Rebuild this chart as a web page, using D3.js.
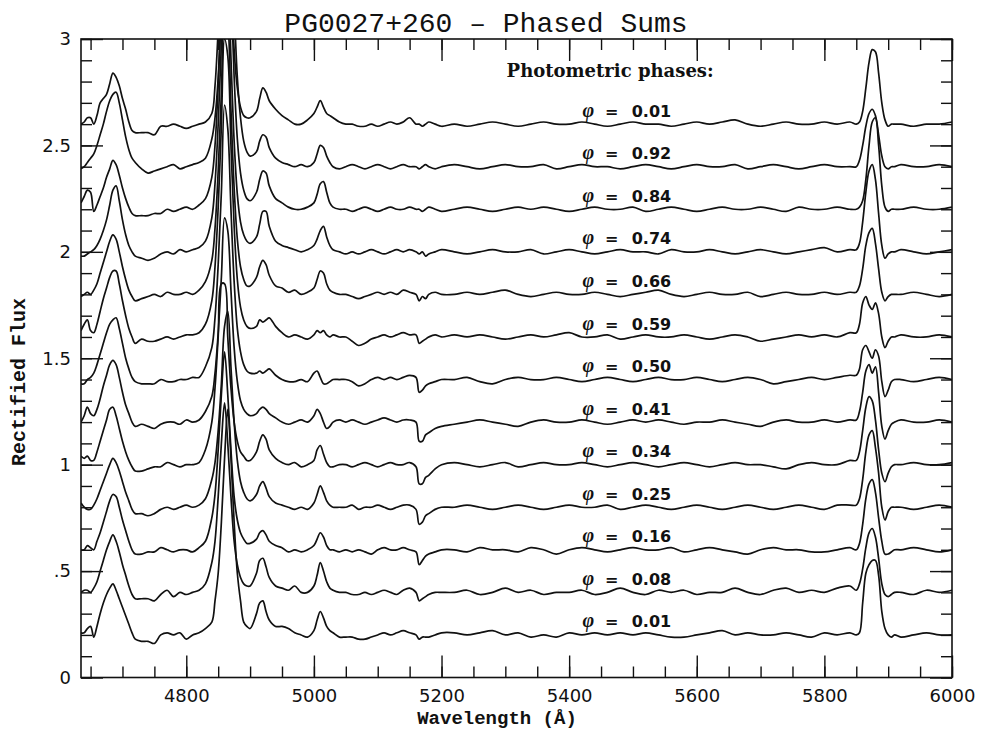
<!DOCTYPE html>
<html>
<head>
<meta charset="utf-8">
<script src="https://cdn.jsdelivr.net/npm/d3@7/dist/d3.min.js"></script>
<style>
  body { margin: 0; background: #fff; }
</style>
</head>
<body>
<div id="chart"></div>
<script>
// wavelength grid (Angstrom), shared by all spectra
const wavelengths = [
  4635,4640,4645,4650,4655,4660,4665,4670,4675,4680,4685,4690,4695,4700,4705,4710,4715,4720,
  4730,4740,4750,4760,4770,4780,4790,4800,4810,4820,4830,
  4840,4845,4850,4855,4860,4865,4870,4875,4880,4885,4890,4895,4900,
  4910,4915,4920,4925,4930,4940,4950,4960,4970,4980,4990,5000,5005,5010,5015,5020,5025,5030,5040,
  5050,5060,5070,5080,5090,5100,5110,5120,5130,5140,5150,5160,5165,5170,5175,5180,5190,5200,
  5220,5240,5260,5280,5300,5320,5340,5360,5380,5400,5420,5440,5460,5480,5500,5520,5540,5560,5580,5600,5620,5640,5660,5680,5700,5720,5740,5760,5780,5800,5820,5840,
  5850,5855,5860,5865,5870,5875,5880,5885,5890,5895,5900,5905,5910,
  5920,5940,5960,5980,6000
];

// phases, bottom to top, and the vertical shift of each spectrum
const phases = ["0.01","0.08","0.16","0.25","0.34","0.41","0.50","0.59","0.66","0.74","0.84","0.92","0.01"];
const offsets = [-0.8,-0.6,-0.4,-0.2,0,0.2,0.4,0.6,0.8,1.0,1.2,1.4,1.6];

// rectified flux, percent of continuum
const flux01a = [
  101,101,103,104,99,104,110,115,119,122,124,121,117,113,109,105,101,98,
  97,97,96,100,101,100,101,98,100,101,103,
  106,116,129,153,183,206,183,153,129,116,106,104,103,
  110,115,116,111,107,104,104,103,101,100,99,102,107,111,108,104,102,101,99,
  99,99,98,98,99,100,101,100,101,102,101,100,98,99,99,99,100,101,
  101,100,101,102,100,101,99,100,99,101,100,101,100,101,100,101,100,99,99,100,101,102,100,101,100,100,101,100,99,101,100,101,
  100,101,115,129,133,135,135,128,111,103,100,99,100,
  99,100,101,100,100
];
const flux08 = [
  100,101,101,100,102,105,110,115,120,124,127,124,119,113,108,103,99,97,
  97,97,96,99,101,98,100,99,100,101,104,
  114,124,145,170,189,170,145,124,113,107,104,103,103,
  109,115,116,112,107,103,102,101,103,100,100,103,108,114,110,105,102,101,100,
  100,99,99,100,99,100,101,100,99,101,102,100,96,97,98,99,100,100,
  100,101,99,100,102,100,101,99,100,100,101,99,100,102,100,99,101,100,101,99,100,100,102,100,99,101,102,100,101,100,102,103,
  101,104,111,121,128,130,126,116,104,99,98,99,100,
  100,99,101,100,101
];
const flux16 = [
  100,100,102,101,100,104,108,113,118,123,126,125,120,114,109,104,100,98,
  98,99,99,101,100,99,100,100,99,101,104,
  115,126,147,173,193,173,147,125,114,108,105,103,103,
  105,108,109,107,104,102,101,99,100,99,100,102,105,108,106,102,100,100,99,
  100,99,100,99,98,100,101,100,100,101,100,99,93,95,97,98,99,100,
  100,99,101,100,100,99,101,100,98,100,101,100,99,100,101,100,100,101,99,100,101,100,99,98,100,101,100,100,99,99,100,101,
  100,103,112,124,131,133,127,115,104,98,98,99,100,
  100,101,100,99,100
];
const flux25 = [
  102,100,99,99,101,104,108,112,116,120,123,121,117,112,107,103,99,97,
  97,96,97,99,100,99,100,101,100,101,104,
  113,121,136,158,185,192,166,140,122,112,107,104,103,
  106,110,112,109,105,102,101,100,99,100,99,102,106,110,107,103,101,100,100,
  100,101,99,100,100,101,100,99,100,101,101,99,92,93,96,97,99,100,
  100,101,100,99,100,101,100,99,100,101,100,100,101,99,100,101,100,99,100,101,100,99,100,101,100,99,100,101,100,99,101,101,
  101,104,113,126,134,136,128,116,100,94,98,100,100,
  100,99,100,101,100
];
const flux34 = [
  104,103,104,102,102,106,111,116,121,126,127,123,117,111,106,102,99,97,
  97,98,99,99,101,100,99,100,100,101,107,
  120,136,160,185,185,160,136,120,111,106,104,102,102,
  106,111,114,112,107,103,101,100,101,99,100,102,107,109,105,101,99,99,100,
  100,99,100,101,100,99,100,101,100,100,101,99,91,91,94,95,98,100,
  101,100,99,100,101,99,100,101,100,100,101,100,99,100,101,100,99,100,101,100,99,100,101,100,100,99,98,100,101,100,100,102,
  102,106,116,127,132,130,121,107,96,92,96,99,100,
  100,101,100,100,101
];
const flux41 = [
  100,103,107,104,103,106,111,117,122,127,129,127,121,114,108,104,100,98,
  99,98,97,99,100,100,99,101,100,101,105,
  112,123,142,168,196,190,162,135,119,110,106,104,103,
  104,106,107,106,104,102,100,99,100,101,100,103,106,104,100,97,98,100,101,
  100,101,100,99,100,101,102,101,100,101,101,100,91,91,94,95,97,98,
  99,100,101,100,99,98,100,101,100,100,101,100,99,100,101,100,101,100,99,100,100,101,100,99,98,100,101,100,100,101,100,101,
  101,105,114,124,127,123,126,114,98,92,96,99,100,
  101,100,100,101,100
];
const flux50 = [
  98,98,100,101,103,107,112,117,122,126,128,129,124,117,110,105,101,99,
  98,98,98,100,99,99,100,100,101,101,106,
  115,129,154,188,229,218,180,146,124,113,107,104,103,
  103,104,103,104,105,102,100,99,99,100,99,103,104,101,98,98,99,100,100,
  100,99,97,98,100,101,100,101,100,101,102,101,94,95,97,98,99,100,
  100,101,99,98,100,101,100,100,101,100,99,100,101,100,99,100,101,100,100,101,100,99,100,101,100,98,99,100,101,100,101,102,
  102,105,114,116,113,110,114,111,99,92,95,99,100,
  100,99,100,101,100
];
const flux59 = [
  103,106,108,103,102,106,112,118,123,128,131,131,125,117,110,104,100,97,
  99,98,98,99,100,99,100,101,101,102,106,
  117,133,161,199,240,232,190,152,127,114,108,105,104,
  105,108,107,108,109,105,102,100,101,100,99,101,103,102,103,101,100,101,100,
  100,98,96,97,99,100,101,100,101,102,101,101,97,98,99,100,101,100,
  101,100,101,100,99,100,101,100,101,102,100,100,101,99,100,101,100,100,101,100,99,100,101,100,98,99,100,101,100,101,100,102,
  102,106,116,119,115,113,116,111,100,95,98,100,100,
  101,100,100,101,100
];
const flux66 = [
  99,100,101,100,102,105,110,115,120,125,128,126,120,113,107,102,99,97,
  98,99,100,99,101,100,100,101,100,102,106,
  116,131,158,195,235,228,187,150,126,113,107,104,104,
  108,113,116,114,109,104,103,101,102,100,101,103,107,111,110,105,102,101,100,
  100,99,98,99,100,101,100,101,100,102,101,100,97,99,98,100,101,100,
  100,101,100,101,102,100,99,100,101,100,100,101,100,99,100,101,102,100,99,100,101,100,100,101,99,100,101,100,100,101,100,101,
  101,104,112,123,129,131,124,112,101,97,99,100,100,
  100,101,100,99,100
];
const flux74 = [
  98,98,99,100,101,103,106,110,115,122,129,131,124,115,108,103,100,98,
  97,96,97,99,100,99,101,100,101,102,105,
  116,132,160,198,240,233,191,152,127,114,108,105,104,
  107,113,119,119,112,105,103,102,101,100,101,103,106,110,112,107,103,101,100,
  99,100,99,100,101,100,99,100,101,100,101,100,99,100,98,99,100,101,
  100,99,100,101,100,100,101,99,100,101,100,99,100,101,100,100,99,101,100,100,101,100,99,100,101,100,99,100,101,102,100,101,
  101,104,114,128,138,141,134,118,103,97,99,100,100,
  101,100,99,100,101
];
const flux84 = [
  103,106,109,108,99,102,106,110,115,119,123,121,116,110,105,101,98,97,
  97,97,98,98,100,99,100,101,100,102,105,
  115,130,158,196,238,247,205,162,133,117,109,105,104,
  108,114,118,117,111,105,103,101,100,100,101,103,107,112,113,108,103,101,100,
  100,99,100,101,100,99,100,101,100,100,101,100,100,99,100,101,100,99,
  100,101,100,99,100,101,100,101,100,99,100,101,100,100,101,99,100,101,100,99,100,101,100,100,101,100,99,101,100,100,101,100,
  100,101,104,114,130,141,143,130,111,101,99,100,100,
  100,101,100,100,101
];
const flux92 = [
  99,100,102,104,106,110,115,120,126,131,134,135,130,122,114,108,104,102,
  99,97,98,99,100,101,99,100,101,102,104,
  113,123,142,176,218,250,218,176,142,123,112,107,105,
  107,112,115,114,109,104,102,101,100,101,100,102,106,110,109,105,102,100,99,
  100,101,100,99,100,101,100,99,100,101,100,100,99,100,101,100,99,100,
  101,100,99,100,101,100,100,101,99,100,101,100,100,99,100,101,100,99,100,101,100,100,101,99,100,101,100,99,100,101,100,100,
  100,103,110,119,125,127,124,115,105,100,99,100,100,
  101,100,100,101,100
];
const flux01b = [
  100,101,103,103,100,104,110,112,114,119,124,122,118,112,107,101,97,96,
  96,96,95,99,99,100,99,98,99,100,101,
  105,118,145,185,232,228,175,135,117,108,104,103,103,
  106,112,117,115,111,107,104,102,100,100,102,105,108,111,108,105,104,103,101,
  100,100,99,99,100,99,100,101,100,101,103,100,100,99,100,101,100,99,
  100,99,100,101,100,99,100,101,100,100,101,100,99,100,101,100,100,99,100,101,100,101,102,100,99,100,101,100,100,101,100,101,
  100,101,106,117,129,135,134,124,110,102,99,100,100,
  100,99,100,100,101
];

const spectra = [flux01a, flux08, flux16, flux25, flux34, flux41, flux50,
                 flux59, flux66, flux74, flux84, flux92, flux01b];

// axis ticks
const xMajor = [4800, 5000, 5200, 5400, 5600, 5800, 6000];
const yMajor = [0, 0.5, 1, 1.5, 2, 2.5, 3];
const yTickLabels = ["0", ".5", "1", "1.5", "2", "2.5", "3"];

const W = 981, H = 731;
const margin = {top: 39, right: 29, bottom: 53.5, left: 81},
  width = W - margin.left - margin.right,
  height = H - margin.top - margin.bottom;

const svg = d3.select('#chart')
  .append('svg')
  .attr('width', W)
  .attr('height', H);

const g = svg.append('g')
  .attr('transform', `translate(${margin.left}, ${margin.top})`);

const x = d3.scaleLinear().domain([4635, 6000]).range([0, width]);
const y = d3.scaleLinear().domain([0, 3]).range([height, 0]);

svg.append('defs').append('clipPath').attr('id', 'plot-clip')
  .append('rect').attr('width', width).attr('height', height);

// spectra
const line = d3.line()
  .x(d => x(d.w))
  .y(d => y(d.f))
  .curve(d3.curveCatmullRom.alpha(0.5));

g.append('g')
  .attr('clip-path', 'url(#plot-clip)')
  .selectAll('path')
  .data(spectra.map((arr, k) => arr.map((v, i) => ({w: wavelengths[i], f: v / 100 + offsets[k]}))))
  .enter()
  .append('path')
  .attr('d', line)
  .attr('fill', 'none')
  .attr('stroke', '#111')
  .attr('stroke-width', 1.7)
  .attr('stroke-linejoin', 'round');

// ticks on all four sides, pointing inward
const xMinor = d3.range(4650, 6001, 50);
const yMinor = d3.range(0, 3.001, 0.1);

function styleAxis(sel) {
  sel.select('.domain').remove();
  sel.selectAll('line').attr('stroke', '#111').attr('stroke-width', 1.4);
  sel.selectAll('text')
    .attr('fill', '#111')
    .style('font-family', '"DejaVu Sans", sans-serif')
    .style('font-size', '18px');
}

g.append('g').attr('transform', `translate(0,${height})`)
  .call(d3.axisBottom(x).tickValues(xMinor).tickSize(-11).tickFormat(''))
  .call(styleAxis);
g.append('g').attr('transform', `translate(0,${height})`)
  .call(d3.axisBottom(x).tickValues(xMajor).tickSize(-22).tickPadding(12).tickFormat(d3.format('d')))
  .call(styleAxis);
g.append('g')
  .call(d3.axisTop(x).tickValues(xMinor).tickSize(-11).tickFormat(''))
  .call(styleAxis);
g.append('g')
  .call(d3.axisTop(x).tickValues(xMajor).tickSize(-22).tickFormat(''))
  .call(styleAxis);

g.append('g')
  .call(d3.axisLeft(y).tickValues(yMinor).tickSize(-11).tickFormat(''))
  .call(styleAxis);
g.append('g')
  .call(d3.axisLeft(y).tickValues(yMajor).tickSize(-22).tickPadding(10).tickFormat((d, i) => yTickLabels[i]))
  .call(styleAxis);
g.append('g').attr('transform', `translate(${width},0)`)
  .call(d3.axisRight(y).tickValues(yMinor).tickSize(-11).tickFormat(''))
  .call(styleAxis);
g.append('g').attr('transform', `translate(${width},0)`)
  .call(d3.axisRight(y).tickValues(yMajor).tickSize(-22).tickFormat(''))
  .call(styleAxis);

// frame
g.append('rect')
  .attr('width', width)
  .attr('height', height)
  .attr('fill', 'none')
  .attr('stroke', '#111')
  .attr('stroke-width', 1.6);

// title and axis labels
svg.append('text')
  .attr('x', 486)
  .attr('y', 32)
  .attr('text-anchor', 'middle')
  .style('font-family', '"Liberation Mono", monospace')
  .style('font-size', '28px')
  .attr('fill', '#111')
  .text('PG0027+260 \u2013 Phased Sums');

svg.append('text')
  .attr('x', 497)
  .attr('y', 724)
  .attr('text-anchor', 'middle')
  .style('font-family', '"Liberation Mono", monospace')
  .style('font-weight', 'bold')
  .style('font-size', '19px')
  .attr('fill', '#111')
  .text('Wavelength (\u00C5)');

svg.append('text')
  .attr('transform', 'translate(25, 382) rotate(-90)')
  .attr('text-anchor', 'middle')
  .style('font-family', '"Liberation Mono", monospace')
  .style('font-weight', 'bold')
  .style('font-size', '20px')
  .attr('fill', '#111')
  .text('Rectified Flux');

// phase annotations
g.append('text')
  .attr('x', x(5302))
  .attr('y', y(2.822))
  .style('font-family', '"DejaVu Serif", serif')
  .style('font-weight', 'bold')
  .style('font-size', '18px')
  .attr('fill', '#111')
  .text('Photometric phases:');

const labels = g.append('g')
  .selectAll('text')
  .data(phases)
  .enter()
  .append('text')
  .attr('y', (d, k) => y(1 + offsets[k] + 0.035))
  .attr('fill', '#111')
  .style('font-family', '"DejaVu Sans", sans-serif')
  .style('font-weight', 'bold')
  .style('font-size', '16px');

labels.append('tspan')
  .attr('x', x(5421))
  .style('font-family', '"Liberation Serif", serif')
  .style('font-style', 'italic')
  .style('font-size', '20px')
  .text('\u03C6');
labels.append('tspan')
  .attr('x', x(5456))
  .text('=');
labels.append('tspan')
  .attr('x', x(5498))
  .text(d => d);
</script>
</body>
</html>
